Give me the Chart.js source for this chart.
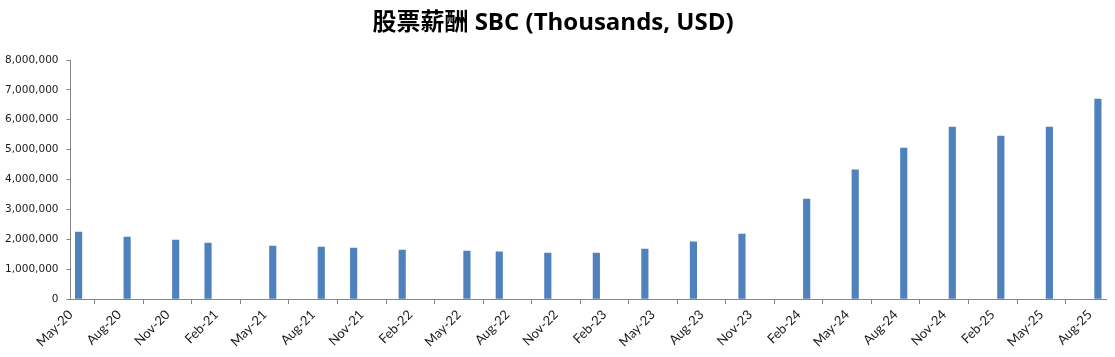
<!DOCTYPE html>
<html>
<head>
<meta charset="utf-8">
<script src="https://cdn.jsdelivr.net/npm/chart.js@4.4.0/dist/chart.umd.min.js"></script>
<style>
html,body{margin:0;padding:0;background:#fff;}
#wrap{width:1115px;height:357px;position:relative;}
</style>
</head>
<body>
<div id="wrap"><canvas id="c" width="1115" height="357"></canvas></div>
<script>
// ---- data ----
const chartTitle = '股票薪酬 SBC (Thousands, USD)';
const barDates = ['2020-05','2020-08','2020-11','2021-01','2021-05','2021-08','2021-10','2022-01','2022-05','2022-07','2022-10','2023-01','2023-04','2023-07','2023-10','2024-02','2024-05','2024-08','2024-11','2025-02','2025-05','2025-08'];
const sbcValues = [2240000,2075000,1975000,1875000,1775000,1740000,1705000,1640000,1605000,1575000,1540000,1540000,1675000,1910000,2175000,3345000,4320000,5055000,5755000,5455000,5755000,6695000];
const tickLabels = ['May-20','Aug-20','Nov-20','Feb-21','May-21','Aug-21','Nov-21','Feb-22','May-22','Aug-22','Nov-22','Feb-23','May-23','Aug-23','Nov-23','Feb-24','May-24','Aug-24','Nov-24','Feb-25','May-25','Aug-25'];
const yTicks = [0,1000000,2000000,3000000,4000000,5000000,6000000,7000000,8000000];

// ---- helpers ----
const MON = ['Jan','Feb','Mar','Apr','May','Jun','Jul','Aug','Sep','Oct','Nov','Dec'];
const startY = 2020, startM = 4; // May 2020 = month 0
function idxFromISO(s){const [y,m]=s.split('-').map(Number);return (y-startY)*12+(m-1-startM);}
function idxFromLabel(s){const [mn,yy]=s.split('-');return (2000+Number(yy)-startY)*12+(MON.indexOf(mn)-startM);}
const tickIdx = tickLabels.map(idxFromLabel);
const labelByIdx = {}; tickLabels.forEach((l,i)=>labelByIdx[tickIdx[i]]=l);
const points = barDates.map((d,i)=>({x: idxFromISO(d)+0.5, y: sbcValues[i]}));
const axisEnd = tickIdx[tickIdx.length-1]+1;

new Chart(document.getElementById('c'), {
  type: 'bar',
  data: { datasets: [{ data: points, backgroundColor: '#4F81BD', borderWidth: 0, barThickness: 6.5 }] },
  options: {
    responsive: false, animation: false,
    layout: { padding: { left: 0, right: 9, top: 0, bottom: 0 } },
    plugins: {
      legend: { display: false }, tooltip: { enabled: false },
      title: { display: true, text: chartTitle, color: '#000',
        font: { family: '"Open Sans","Noto Sans CJK SC",sans-serif', size: 24, weight: 'bold' },
        padding: { top: 9, bottom: 22.2 } }
    },
    scales: {
      x: {
        type: 'linear', min: 0, max: axisEnd, offset: false,
        afterBuildTicks: s => { s.ticks = tickIdx.map(v => ({ value: v })); },
        afterFit: s => { s.height = 58; },
        grid: { drawOnChartArea: false, drawTicks: true, tickLength: 5, color: '#868686' },
        border: { color: '#868686', width: 1 },
        ticks: { autoSkip: false, minRotation: 45, maxRotation: 45, color: '#1a1a1a',
          font: { family: 'Lato, "Open Sans", sans-serif', size: 13 },
          callback: v => labelByIdx[v] ?? '' }
      },
      y: {
        min: 0, max: 8000000,
        afterBuildTicks: s => { s.ticks = yTicks.map(v => ({ value: v })); },
        afterFit: s => { s.width = 70.5; },
        grid: { drawOnChartArea: false, drawTicks: true, tickLength: 4, color: '#868686' },
        border: { color: '#868686', width: 1 },
        ticks: { color: '#1a1a1a', padding: 8,
          font: { family: '"DejaVu Sans", Verdana, sans-serif', size: 10.5 },
          callback: v => v.toLocaleString('en-US') }
      }
    }
  }
});
</script>
</body>
</html>
